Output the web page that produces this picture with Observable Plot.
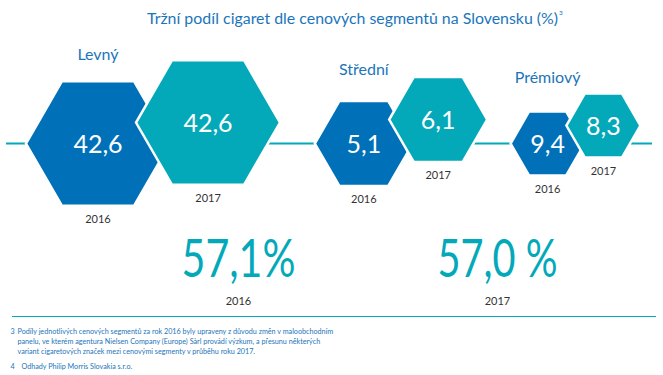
<!DOCTYPE html>
<html>
<head>
<meta charset="utf-8">
<script src="https://cdn.jsdelivr.net/npm/d3@7"></script>
<script src="https://cdn.jsdelivr.net/npm/@observablehq/plot@0.6"></script>
<style>
  html, body { margin: 0; padding: 0; background: #fff; }
  #wrap { position: relative; width: 663px; height: 375px; overflow: hidden; font-family: Lato, "Open Sans", sans-serif; }
  #title { position: absolute; left: 147px; top: 8px; font-size: 15.9px; color: #1b75bb; white-space: nowrap; }
  #title sup { font-size: 6.5px; vertical-align: top; position: relative; top: 1px; margin-left: 1px; }
  #chart { position: absolute; left: 0; top: 0; }
</style>
</head>
<body>
<div id="wrap">
  <div id="chart"></div>
  <div id="title">Tržní podíl cigaret dle cenových segmentů na Slovensku (%)<sup>3</sup></div>
</div>
<script>
// ---- data ----
const categories = ["Levný", "Střední", "Prémiový"];
const years = ["2016", "2017"];
const share2016 = [42.6, 5.1, 9.4];
const share2017 = [42.6, 6.1, 8.3];
const totalYears = ["2016", "2017"];
const totalShare = [57.1, 57.0];
const footnoteMarks = ["3", "4"];
const footnoteLines = [
  ["Podíly jednotlivých cenových segmentů za rok 2016 byly upraveny z důvodu změn v maloobchodním",
   "panelu, ve kterém agentura Nielsen Company (Europe) Sàrl provádí výzkum, a přesunu některých",
   "variant cigaretových značek mezi cenovými segmenty v průběhu roku 2017."],
  ["Odhady Philip Morris Slovakia s.r.o."]
];

// ---- layout & style (not data) ----
const blue = "#0071b9";
const teal = "#03a9b9";
const textBlue = "#1b75bb";
const layout = {
  "Levný":    {cx: 152.5, r: 72, lift: 21, labelY: 59},
  "Střední":  {cx: 400.5, r: 49, lift: 24, labelY: 74},
  "Prémiový": {cx: 575,   r: 37, lift: 18, labelY: 82}
};
const baseY = 143;
const totalX = {"2016": 238, "2017": 497};
const totalWidth = {"2016": 114, "2017": 120};
const fmt = v => v.toFixed(1).replace(".", ",");

const hexData = [];
categories.forEach((c, i) => {
  hexData.push({category: c, year: years[0], value: share2016[i]});
  hexData.push({category: c, year: years[1], value: share2017[i]});
});
const totals = totalYears.map((y, i) => ({year: y, value: totalShare[i]}));
const notes = [];
footnoteMarks.forEach((m, i) => footnoteLines[i].forEach((t, j) => notes.push({mark: j === 0 ? m : "", text: t, n: i, j})));

const R = d => layout[d.category].r;
const cx = d => layout[d.category].cx + (d.year === years[0] ? -1 : 1) * 0.775 * (R(d) - 1);
const cy = d => baseY - (d.year === years[0] ? 0 : layout[d.category].lift);

const flatHex = {
  draw(ctx, size) {
    const r = Math.sqrt(size / Math.PI);
    for (let k = 0; k < 6; k++) {
      const a = k * Math.PI / 3;
      const px = r * Math.cos(a), py = r * Math.sin(a);
      if (k === 0) ctx.moveTo(px, py); else ctx.lineTo(px, py);
    }
    ctx.closePath();
  }
};

const noteY = d => (d.n === 0 ? 331 + d.j * 10 : 366);
const totalText = d => d.year === totalYears[0] ? fmt(d.value) + "%" : fmt(d.value) + " %";

const chart = Plot.plot({
  width: 663,
  height: 375,
  margin: 0,
  x: {type: "identity", axis: null},
  y: {type: "identity", axis: null},
  r: {type: "identity"},
  style: {fontFamily: "Lato, 'Open Sans', sans-serif", background: "white"},
  marks: [
    Plot.ruleY([baseY], {x1: 6, x2: 652, stroke: teal, strokeWidth: 2}),
    Plot.ruleY([316], {x1: 12, x2: 656, stroke: teal, strokeWidth: 1.2}),
    Plot.dot(hexData.filter(d => d.year === years[0]), {x: cx, y: cy, r: R, symbol: flatHex, fill: blue, stroke: "white", strokeWidth: 2.5, sort: null}),
    Plot.dot(hexData.filter(d => d.year === years[1]), {x: cx, y: cy, r: R, symbol: flatHex, fill: teal, stroke: "white", strokeWidth: 2.5, sort: null}),
    Plot.text(hexData, {x: cx, y: d => cy(d) + 1, text: d => fmt(d.value), fill: "white", fontSize: 25}),
    Plot.text(hexData, {x: cx, y: d => cy(d) + 0.866 * R(d) + 14, text: "year", fill: "#333", fontSize: 11}),
    Plot.text(categories, {x: c => layout[c].cx - 0.775 * (layout[c].r - 1), y: c => layout[c].labelY, text: c => c, lineAnchor: "bottom", fill: textBlue, fontSize: 16}),
    Plot.text(totals, {x: d => totalX[d.year], y: 276, text: totalText, lineAnchor: "bottom", fill: teal, fontSize: 52}),
    Plot.text(totals, {x: d => totalX[d.year], y: 301, text: "year", fill: "#333", fontSize: 11}),
    Plot.text(notes.filter(d => d.mark), {x: 10, y: noteY, text: "mark", textAnchor: "start", fill: textBlue, fontSize: 7.2}),
    Plot.text(notes, {x: d => d.n === 0 ? 17 : 21, y: noteY, text: "text", textAnchor: "start", fill: textBlue, fontSize: 7.2})
  ]
});
document.getElementById("chart").appendChild(chart);

// condense the big total figures to the reference's narrow face
const labels = totals.map(totalText);
d3.select(chart).selectAll("text").each(function () {
  const i = labels.indexOf(this.textContent);
  if (i >= 0) {
    d3.select(this).attr("textLength", totalWidth[totals[i].year]).attr("lengthAdjust", "spacingAndGlyphs");
  }
});
</script>
</body>
</html>
